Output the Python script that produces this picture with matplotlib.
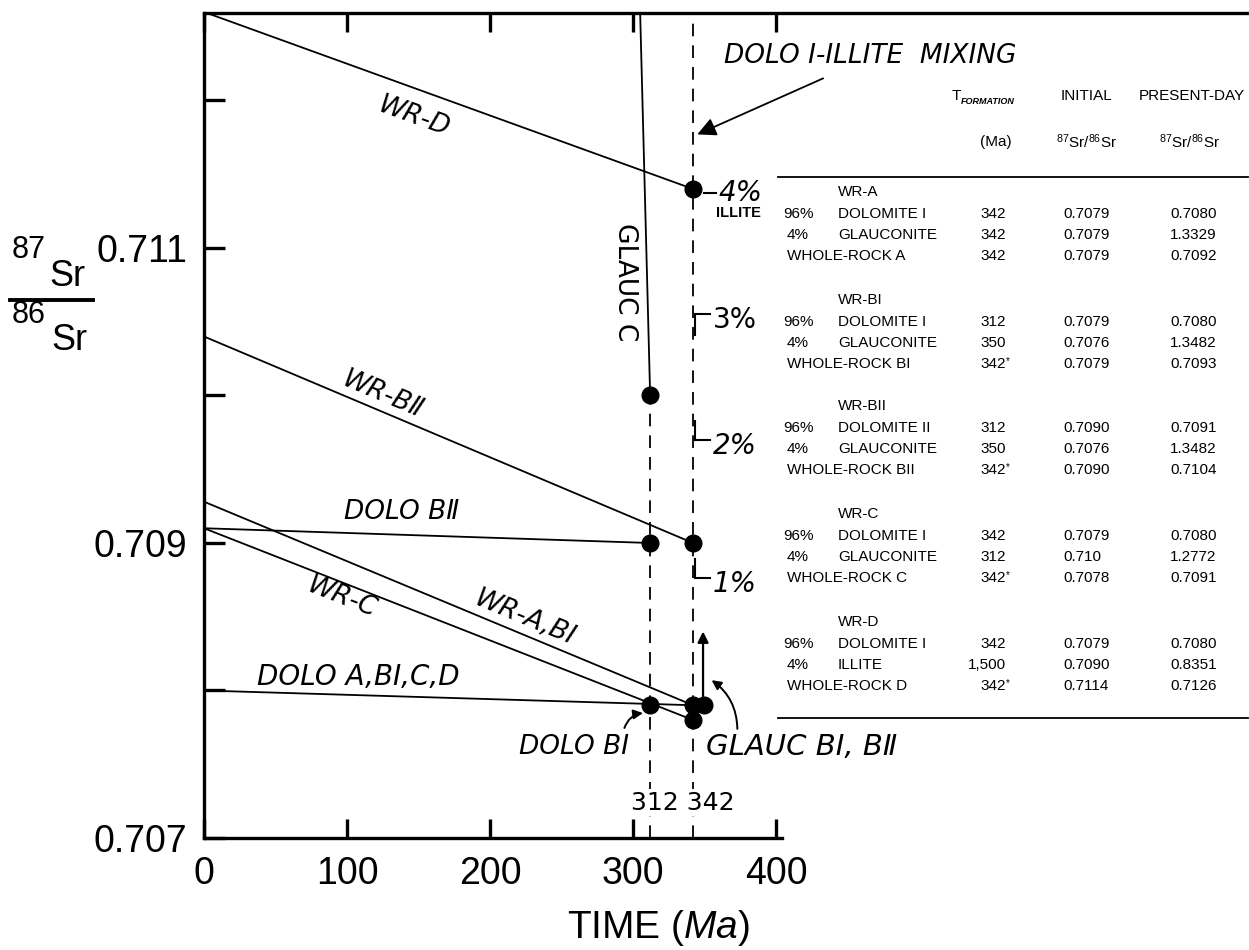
import numpy as np
import matplotlib
matplotlib.use("Agg")
import matplotlib.pyplot as plt
from matplotlib.lines import Line2D

# ---------------- data ----------------
x_ticks = [0, 100, 200, 300, 400]
x_ticklabels = ["0", "100", "200", "300", "400"]
y_ticks = [0.707, 0.708, 0.709, 0.710, 0.711, 0.712]
y_ticklabels = ["0.707", "", "0.709", "", "0.711", ""]

# Sr evolution lines: time (Ma) vs 87Sr/86Sr
wr_d_t, wr_d_sr = [0, 342], [0.7126, 0.7114]
glauc_c_t, glauc_c_sr = [305, 312], [0.7126, 0.7100]
wr_b2_t, wr_b2_sr = [0, 342], [0.7104, 0.7090]
dolo_b2_t, dolo_b2_sr = [0, 312], [0.7091, 0.7090]
wr_c_t, wr_c_sr = [0, 342], [0.7091, 0.7078]
wr_ab1_t, wr_ab1_sr = [0, 342], [0.70928, 0.7079]
dolo_a_t, dolo_a_sr = [0, 342], [0.7080, 0.7079]

# formation points
point_t = [342, 312, 312, 342, 312, 342, 342, 350]
point_sr = [0.7114, 0.7100, 0.7090, 0.7090, 0.7079, 0.7079, 0.7078, 0.7079]

# formation ages (dashed verticals)
age_312, age_342 = 312, 342
age_312_top, age_342_top = 0.7100, 0.71255

# dolomite I - illite mixing marks on the 342 Ma line
mix_labels = ["1%", "2%", "3%", "4%"]
mix_sr = [0.70876, 0.70970, 0.71055, 0.71137]

# table
tbl_groups = ["WR-A", "WR-BI", "WR-BII", "WR-C", "WR-D"]
tbl_pct = ["96%", "4%", ""]
tbl_names = [["DOLOMITE I", "GLAUCONITE", "WHOLE-ROCK A"],
             ["DOLOMITE I", "GLAUCONITE", "WHOLE-ROCK BI"],
             ["DOLOMITE II", "GLAUCONITE", "WHOLE-ROCK BII"],
             ["DOLOMITE I", "GLAUCONITE", "WHOLE-ROCK C"],
             ["DOLOMITE I", "ILLITE", "WHOLE-ROCK D"]]
tbl_tform = [["342", "342", "342"],
             ["312", "350", "342*"],
             ["312", "350", "342*"],
             ["342", "312", "342*"],
             ["342", "1,500", "342*"]]
tbl_initial = [["0.7079", "0.7079", "0.7079"],
               ["0.7079", "0.7076", "0.7079"],
               ["0.7090", "0.7076", "0.7090"],
               ["0.7079", "0.710", "0.7078"],
               ["0.7079", "0.7090", "0.7114"]]
tbl_present = [["0.7080", "1.3329", "0.7092"],
               ["0.7080", "1.3482", "0.7093"],
               ["0.7091", "1.3482", "0.7104"],
               ["0.7080", "1.2772", "0.7091"],
               ["0.7080", "0.8351", "0.7126"]]

# ---------------- figure ----------------
W, H, DPI = 1249, 950, 100
SANS = ['Liberation Sans', 'DejaVu Sans']
plt.rcParams['font.family'] = SANS
plt.rcParams['mathtext.fontset'] = 'custom'
plt.rcParams['mathtext.rm'] = 'Liberation Sans'
plt.rcParams['mathtext.it'] = 'Liberation Sans:italic'

fig = plt.figure(figsize=(W / DPI, H / DPI), dpi=DPI)


def fpx(x, y):
    return x / W, 1 - y / H


ax = fig.add_axes([204 / W, (H - 838) / H, (W - 204) / W, (838 - 13) / H])
ax.set_xlim(0, 730.8)
ax.set_ylim(0.707, 0.712593)

ax.spines['right'].set_visible(False)
for s in ['left', 'bottom', 'top']:
    ax.spines[s].set_linewidth(2.4)
ax.spines['bottom'].set_bounds(0, 404)

ax.set_xticks(x_ticks)
ax.set_xticklabels(x_ticklabels)
ax.set_yticks(y_ticks)
ax.set_yticklabels(y_ticklabels)
ax.tick_params(axis='x', direction='in', length=14, width=2.4, top=True,
               labeltop=False, pad=13, labelsize=27)
ax.tick_params(axis='y', direction='in', length=15, width=2.4, pad=12,
               labelsize=27)

LW = 1.3
K = 'black'
for t, v in [(wr_d_t, wr_d_sr), (glauc_c_t, glauc_c_sr), (wr_b2_t, wr_b2_sr),
             (dolo_b2_t, dolo_b2_sr), (wr_c_t, wr_c_sr), (wr_ab1_t, wr_ab1_sr),
             (dolo_a_t, dolo_a_sr)]:
    ax.plot(t, v, color=K, lw=LW, solid_capstyle='butt', zorder=3)

ax.plot(point_t, point_sr, 'o', color=K, ms=12, zorder=5, linestyle='none')

# dashed formation-age lines
ax.vlines([age_312], 0.707, age_312_top, colors=K, lw=1.3,
          linestyles=(0, (7, 5)), zorder=2)
ax.vlines([age_342], 0.707, age_342_top, colors=K, lw=1.3,
          linestyles=(0, (7, 5)), zorder=2)


def line_angle(t, v):
    p = ax.transData.transform(np.column_stack([t, v]))
    return np.degrees(np.arctan2(p[1, 1] - p[0, 1], p[1, 0] - p[0, 0]))


LAB = dict(family='DejaVu Sans', style='italic', fontsize=19, color=K,
           ha='center', va='center')

ax.text(147, 0.71189, "WR-D", rotation=line_angle(wr_d_t, wr_d_sr), **LAB)
ax.text(294.5, 0.71077, "GLAUC C", rotation=-90,
        **{**LAB, 'style': 'normal'})
ax.text(125, 0.71000, "WR-BⅡ", rotation=line_angle(wr_b2_t, wr_b2_sr), **LAB)
ax.text(138, 0.70921, "DOLO BⅡ", **LAB)
ax.text(96, 0.70863, "WR-C", rotation=line_angle(wr_c_t, wr_c_sr), **LAB)
ax.text(224, 0.70849, "WR-A,BⅠ", rotation=line_angle(wr_ab1_t, wr_ab1_sr), **LAB)
ax.text(108, 0.70809, "DOLO A,BⅠ,C,D", **{**LAB, 'fontsize': 20})
ax.text(259, 0.70762, "DOLO BⅠ", **LAB)
ax.text(351, 0.70762, "GLAUC BⅠ, BⅡ", **{**LAB, 'ha': 'left', 'fontsize': 21})
ax.text(335, 0.70724, "312 342", bbox=dict(fc='white', ec='none', pad=1),
        **{**LAB, 'style': 'normal', 'fontsize': 18})
ax.text(364, 0.71230, "DOLO Ⅰ-ILLITE  MIXING",
        **{**LAB, 'ha': 'left', 'fontsize': 19})

# mixing percentage marks
for lab, v in zip(mix_labels, mix_sr):
    if lab == "4%":
        ax.plot([age_342 + 8, age_342 + 16], [v, v], color=K, lw=1.5)
        ax.text(age_342 + 18, v, lab, ha='left', va='center', fontsize=20,
                family='DejaVu Sans', style='italic')
    else:
        if lab == "3%":
            ax.plot([age_342 + 1.5, age_342 + 1.5], [v - 0.00014, v], color=K, lw=1.5)
        else:
            ax.plot([age_342 + 1.5, age_342 + 1.5], [v + 0.00013, v], color=K, lw=1.5)
        ax.plot([age_342 + 1.5, age_342 + 12], [v, v], color=K, lw=1.5)
        ax.text(age_342 + 14, v - 0.00004, lab, ha='left', va='center',
                fontsize=20, family='DejaVu Sans',
                style='normal' if lab == "3%" else 'italic')
ax.text(age_342 + 32, mix_sr[-1] - 0.00013, "ILLITE", ha='center', va='center',
        fontsize=10.5, family='Liberation Sans', weight='bold')

# arrows
ax.annotate("", xy=(345, 0.71177), xytext=(433, 0.71215),
            arrowprops=dict(arrowstyle='-|>', lw=1.3, color=K,
                            mutation_scale=28, shrinkA=0, shrinkB=0))
ax.annotate("", xy=(349, 0.70840), xytext=(349, 0.7079),
            arrowprops=dict(arrowstyle='-|>', lw=1.6, color=K,
                            mutation_scale=16, shrinkA=0, shrinkB=0))
ax.annotate("", xy=(355, 0.70807), xytext=(373, 0.70774),
            arrowprops=dict(arrowstyle='-|>', lw=1.4, color=K,
                            mutation_scale=14, shrinkA=0, shrinkB=0,
                            connectionstyle='arc3,rad=0.25'))
ax.annotate("", xy=(307, 0.707847), xytext=(294, 0.707746),
            arrowprops=dict(arrowstyle='-|>', lw=1.4, color=K,
                            mutation_scale=14, shrinkA=0, shrinkB=0,
                            connectionstyle='arc3,rad=-0.3'))

# axis titles
fig.text(*fpx(659, 928), "TIME ($\\mathit{Ma}$)", ha='center', va='center',
         fontsize=28)
fig.text(*fpx(12, 250), "87", ha='left', va='center', fontsize=22)
fig.text(*fpx(49, 277), "Sr", ha='left', va='center', fontsize=26)
fig.text(*fpx(12, 315), "86", ha='left', va='center', fontsize=22)
fig.text(*fpx(51, 340), "Sr", ha='left', va='center', fontsize=26)
fig.add_artist(Line2D([10 / W, 93 / W], [1 - 300 / H] * 2,
                      transform=fig.transFigure, lw=2.8, color=K))

# ---------------- table ----------------
TF = dict(family='Liberation Sans', fontsize=11, color=K, va='center')
fig.add_artist(Line2D([778 / W, 1248 / W], [1 - 177 / H] * 2,
                      transform=fig.transFigure, lw=1.3, color=K))
fig.add_artist(Line2D([778 / W, 1248 / W], [1 - 718 / H] * 2,
                      transform=fig.transFigure, lw=1.3, color=K))
fig.text(*fpx(952, 96), "T", ha='left', **TF)
fig.text(*fpx(961, 101), "FORMATION", ha='left',
         **{**TF, 'fontsize': 6.5, 'style': 'italic', 'weight': 'bold'})
fig.text(*fpx(996, 142), "(Ma)", ha='center', **TF)
fig.text(*fpx(1087, 96), "INITIAL", ha='center', **TF)
fig.text(*fpx(1087, 142), "$^{87}$Sr/$^{86}$Sr", ha='center', **TF)
fig.text(*fpx(1192, 96), "PRESENT-DAY", ha='center', **TF)
fig.text(*fpx(1190, 142), "$^{87}$Sr/$^{86}$Sr", ha='center', **TF)

group_y = [192, 300, 406, 514, 622]
row_dy = [22, 43, 64]
for gi, gname in enumerate(tbl_groups):
    y0 = group_y[gi]
    fig.text(*fpx(838, y0), gname, ha='left', **TF)
    for ri in range(3):
        y = y0 + row_dy[ri]
        if ri < 2:
            fig.text(*fpx(798, y), tbl_pct[ri], ha='center', **TF)
            fig.text(*fpx(838, y), tbl_names[gi][ri], ha='left', **TF)
        else:
            fig.text(*fpx(787, y), tbl_names[gi][ri], ha='left', **TF)
        tf = tbl_tform[gi][ri]
        if tf.endswith('*'):
            fig.text(*fpx(1006, y), tf[:-1], ha='right', **TF)
            fig.text(*fpx(1006, y - 3), '*', ha='left', **{**TF, 'fontsize': 7})
        else:
            fig.text(*fpx(1006, y), tf, ha='right', **TF)
        fig.text(*fpx(1063, y), tbl_initial[gi][ri], ha='left', **TF)
        fig.text(*fpx(1170, y), tbl_present[gi][ri], ha='left', **TF)

fig.savefig("out.png", dpi=DPI)
